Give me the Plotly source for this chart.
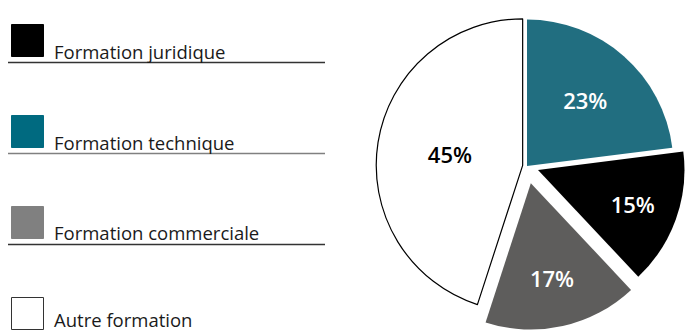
import plotly.graph_objects as go

# Data
categories = ["Formation technique", "Formation juridique", "Formation commerciale", "Autre formation"]
values = [23, 15, 17, 45]
slice_colors = ["#216e80", "#000000", "#5e5d5c", "#ffffff"]
text_colors = ["#ffffff", "#ffffff", "#ffffff", "#000000"]
pulls = [0.0, 0.08, 0.12, 0.03]

legend_labels = ["Formation juridique", "Formation technique", "Formation commerciale", "Autre formation"]
legend_fill = ["#000000", "#006a80", "#808080", "#ffffff"]
legend_border = ["#000000", "#006a80", "#808080", "#333333"]
legend_rule = ["#333333", "#808080", "#333333", None]

W, H = 691, 332

fig = go.Figure()
fig.add_trace(go.Pie(
    labels=categories,
    values=values,
    sort=False,
    direction="clockwise",
    rotation=0,
    pull=pulls,
    marker=dict(colors=slice_colors,
                line=dict(color=["#ffffff", "#ffffff", "#ffffff", "#000000"], width=[0, 0, 0, 1.2])),
    textinfo="percent",
    textposition="inside",
    insidetextorientation="horizontal",
    textfont=dict(family="Open Sans", size=22, color=text_colors, weight=600),
    domain=dict(x=[363 / W, 1.0], y=[0.0, 1.0]),
    showlegend=False,
    hoverinfo="label+percent",
))

shapes = []
annotations = []
step = 91
for i, lab in enumerate(legend_labels):
    top = 24 + i * step
    # square
    shapes.append(dict(type="rect", xref="paper", yref="paper",
                       x0=11.5 / W, x1=43.5 / W,
                       y0=1 - (top + 32.5) / H, y1=1 - (top + 0.5) / H,
                       fillcolor=legend_fill[i],
                       line=dict(color=legend_border[i], width=1)))
    # rule
    if legend_rule[i]:
        shapes.append(dict(type="line", xref="paper", yref="paper",
                           x0=8 / W, x1=325 / W,
                           y0=1 - (top + 38.5) / H, y1=1 - (top + 38.5) / H,
                           line=dict(color=legend_rule[i], width=1.5)))
    ty = top + 27 if legend_rule[i] else min(top + 27, H - 13)
    annotations.append(dict(text=lab, xref="paper", yref="paper",
                            x=52 / W, y=1 - ty / H,
                            xanchor="left", yanchor="middle", showarrow=False,
                            font=dict(family="Open Sans", size=18.5, color="#1a1a1a")))

fig.update_layout(
    width=W, height=H,
    margin=dict(l=0, r=0, t=0, b=0),
    paper_bgcolor="white",
    plot_bgcolor="white",
    shapes=shapes,
    annotations=annotations,
)

fig.write_html("out.html")
